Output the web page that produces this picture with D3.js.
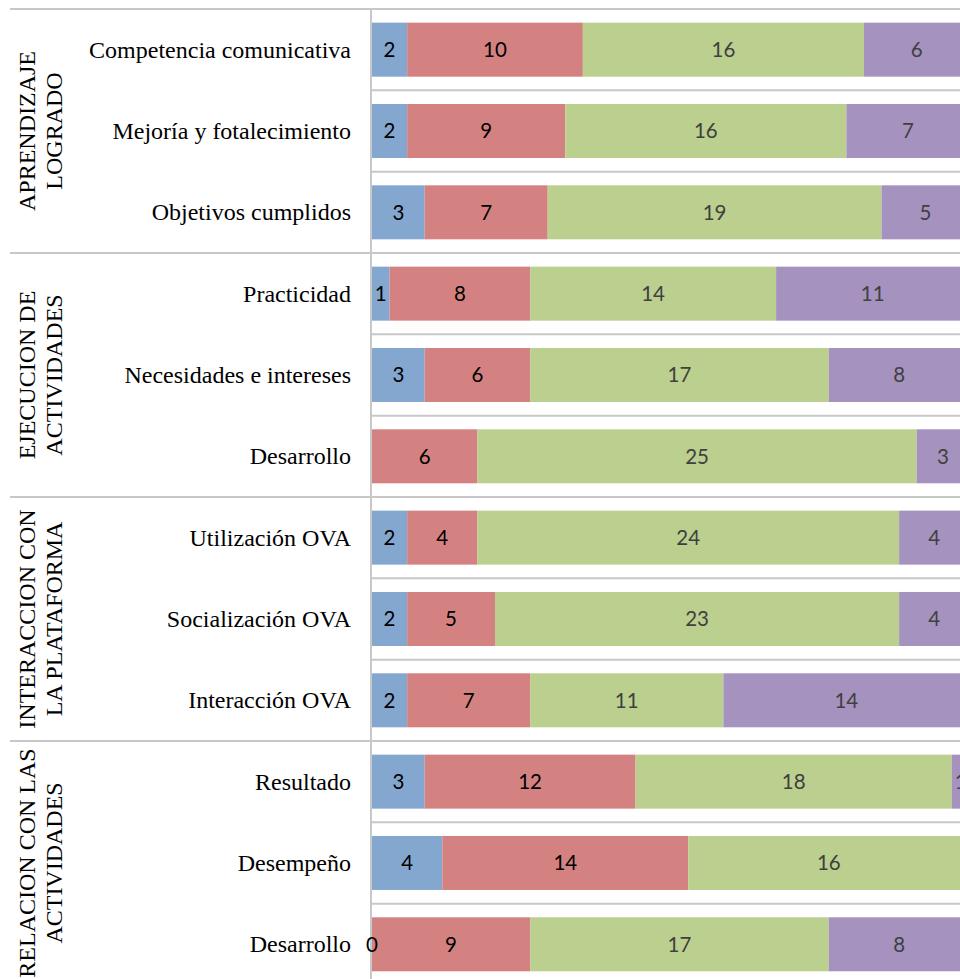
<!DOCTYPE html>
<html>
<head>
<meta charset="utf-8">
<script src="https://cdn.jsdelivr.net/npm/d3@7"></script>
<style>
  html, body { margin: 0; padding: 0; background: #fff; overflow: hidden; }
  .cat { font-family: 'Liberation Serif', 'Times New Roman', serif; font-size: 24px; fill: #000; }
  .grp { font-family: 'Liberation Serif', 'Times New Roman', serif; font-size: 24px; fill: #000; }
  .lbl { font-family: Lato, 'Open Sans', sans-serif; font-size: 20.5px; }
</style>
</head>
<body>
<div id="chart"></div>
<script>
// groups (two-line rotated labels), three categories each
const groupLines = [
  ['APRENDIZAJE', 'LOGRADO'],
  ['EJECUCION DE', 'ACTIVIDADES'],
  ['INTERACCION CON', 'LA PLATAFORMA'],
  ['RELACION CON LAS', 'ACTIVIDADES']
]

const categories = [
  'Competencia comunicativa', 'Mejoría y fotalecimiento', 'Objetivos cumplidos',
  'Practicidad', 'Necesidades e intereses', 'Desarrollo',
  'Utilización OVA', 'Socialización OVA', 'Interacción OVA',
  'Resultado', 'Desempeño', 'Desarrollo'
]

// series values, top row first (null = no value / no label)
const serie1 = [2, 2, 3, 1, 3, null, 2, 2, 2, 3, 4, 0]
const serie2 = [10, 9, 7, 8, 6, 6, 4, 5, 7, 12, 14, 9]
const serie3 = [16, 16, 19, 14, 17, 25, 24, 23, 11, 18, 16, 17]
const serie4 = [6, 7, 5, 11, 8, 3, 4, 4, 14, 1, null, 8]

const keys = ['s1', 's2', 's3', 's4']
const colors = { s1: '#84a7cf', s2: '#d48281', s3: '#bbcf8e', s4: '#a592bf' }
const labelColors = { s1: '#000', s2: '#000', s3: '#404040', s4: '#404040' }

const rows = categories.map((c, i) => ({
  id: i, cat: c, s1: serie1[i], s2: serie2[i], s3: serie3[i], s4: serie4[i]
}))

const width = 960
const height = 979
const topY = 9
const step = 81.33
const axisX = 371

const svg = d3.select('#chart')
  .append('svg')
  .attr('width', width)
  .attr('height', height)

const x = d3.scaleLinear()
  .domain([0, 34])
  .range([372, 372 + 34 * 17.57])

const y = d3.scaleBand()
  .domain(rows.map(d => d.id))
  .range([topY, topY + step * rows.length])
  .paddingInner(0.336)
  .paddingOuter(0.168)

const stacked = d3.stack()
  .keys(keys)
  .value((d, k) => d[k] == null ? 0 : d[k])(rows)

// gridlines between rows; group boundaries run out to the left edge
const bounds = d3.range(rows.length + 1)
svg.append('g')
  .selectAll('line')
  .data(bounds)
  .join('line')
  .attr('x1', i => i % 3 === 0 ? 10 : axisX)
  .attr('x2', width)
  .attr('y1', i => topY + i * step)
  .attr('y2', i => topY + i * step)
  .attr('stroke', '#c8c8c8')
  .attr('stroke-width', 2)

svg.append('line')
  .attr('x1', axisX).attr('x2', axisX)
  .attr('y1', topY).attr('y2', height)
  .attr('stroke', '#c8c8c8')
  .attr('stroke-width', 2)

// bars
const layers = svg.append('g')
  .selectAll('g')
  .data(stacked)
  .join('g')
  .attr('fill', d => colors[d.key])

layers.selectAll('rect')
  .data(d => d)
  .join('rect')
  .attr('x', d => x(d[0]))
  .attr('width', d => x(d[1]) - x(d[0]))
  .attr('y', d => y(d.data.id))
  .attr('height', y.bandwidth())

// value labels
stacked.forEach(layer => {
  svg.append('g')
    .selectAll('text')
    .data(layer.filter(d => d.data[layer.key] != null))
    .join('text')
    .attr('class', 'lbl')
    .attr('x', d => (x(d[0]) + x(d[1])) / 2)
    .attr('y', d => y(d.data.id) + y.bandwidth() / 2)
    .attr('dy', '0.36em')
    .attr('text-anchor', 'middle')
    .attr('fill', labelColors[layer.key])
    .text(d => d.data[layer.key])
})

// category labels
svg.append('g')
  .selectAll('text')
  .data(rows)
  .join('text')
  .attr('class', 'cat')
  .attr('x', 351)
  .attr('y', d => y(d.id) + y.bandwidth() / 2)
  .attr('dy', '0.33em')
  .attr('text-anchor', 'end')
  .text(d => d.cat)

// group labels, rotated
const grp = svg.append('g')
  .selectAll('text')
  .data(groupLines)
  .join('text')
  .attr('class', 'grp')
  .attr('text-anchor', 'middle')
  .attr('transform', (d, i) => `translate(0,${topY + (i * 3 + 1.5) * step}) rotate(-90)`)

grp.selectAll('tspan')
  .data(d => d)
  .join('tspan')
  .attr('x', 0)
  .attr('y', (d, j) => 35 + j * 27)
  .text(d => d)
</script>
</body>
</html>
